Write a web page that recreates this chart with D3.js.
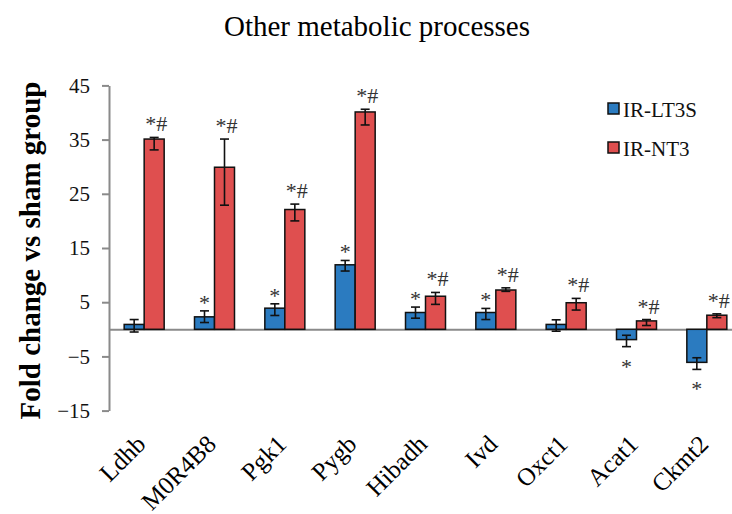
<!DOCTYPE html>
<html>
<head>
<meta charset="utf-8">
<script src="https://cdn.jsdelivr.net/npm/d3@7/dist/d3.min.js"></script>
<style>
  body { margin: 0; background: #fff; }
  text { font-family: "Liberation Serif", "Times New Roman", serif; }
</style>
</head>
<body>
<script>
// data
var genes = ["Ldhb", "M0R4B8", "Pgk1", "Pygb", "Hibadh", "Ivd", "Oxct1", "Acat1", "Ckmt2"];
var seriesNames = ["IR-LT3S", "IR-NT3"];
var lt3s = [0.9, 2.3, 3.9, 11.9, 3.1, 3.1, 0.9, -1.9, -6.1];
var lt3sUp = [0.9, 1.1, 0.8, 0.8, 1.0, 0.75, 0.85, 0.8, 0.85];
var lt3sDown = [1.4, 1.05, 1.35, 1.15, 1.05, 1.3, 1.25, 1.3, 1.3];
var nt3 = [35.1, 29.9, 22.1, 40.1, 6.1, 7.25, 4.9, 1.55, 2.6];
var nt3Up = [0.3, 5.2, 1.0, 0.5, 0.7, 0.4, 0.8, 0.25, 0.25];
var nt3Down = [2.0, 7.0, 2.1, 2.4, 1.5, 0.25, 1.35, 0.85, 0.45];
var lt3sSig = ["", "*", "*", "*", "*", "*", "", "*", "*"];
var nt3Sig = ["*#", "*#", "*#", "*#", "*#", "*#", "*#", "*#", "*#"];
var yTicks = [-15, -5, 5, 15, 25, 35, 45];

var w = 732, h = 514;
var colors = ["#2b7bc0", "#df4f4f"];
var axisGrey = "#8a8a8a";
var barW = 20;

var svg = d3.select("body").append("svg")
  .attr("width", w)
  .attr("height", h);

var xScale = d3.scaleBand()
  .domain(genes)
  .range([109, 742]);

var yScale = d3.scaleLinear()
  .domain([-15, 45])
  .range([410.6, 85.4]);

// y axis
var yAxis = d3.axisLeft(yScale)
  .tickValues(yTicks)
  .tickSize(7)
  .tickSizeOuter(0)
  .tickPadding(12)
  .tickFormat(d3.format("d"));

var gy = svg.append("g")
  .attr("transform", "translate(109,0)")
  .call(yAxis);
gy.select(".domain").attr("stroke", axisGrey).attr("stroke-width", 2);
gy.selectAll(".tick line").attr("stroke", axisGrey).attr("stroke-width", 2);
gy.selectAll(".tick text")
  .attr("font-size", 21)
  .attr("fill", "#111")
  .style("font-family", "'Liberation Serif', 'Times New Roman', serif");

// x axis (the zero line) with rotated gene names below the plot
var labelDrop = yScale(-15) + 35 - yScale(0);
var gx = svg.append("g")
  .attr("transform", "translate(0," + yScale(0) + ")")
  .call(d3.axisBottom(xScale).tickSize(0).tickSizeOuter(0));
gx.select(".domain").attr("stroke", axisGrey).attr("stroke-width", 2);
gx.selectAll(".tick text")
  .attr("y", 0)
  .attr("dy", 0)
  .attr("text-anchor", "end")
  .attr("transform", "translate(3," + labelDrop + ") rotate(-45)")
  .attr("font-size", 25)
  .attr("fill", "#000")
  .style("font-family", "'Liberation Serif', 'Times New Roman', serif");

// bars
var series = [
  {vals: lt3s, up: lt3sUp, down: lt3sDown, sig: lt3sSig, off: -barW},
  {vals: nt3, up: nt3Up, down: nt3Down, sig: nt3Sig, off: 0}
];

series.forEach(function(s, si) {
  var g = svg.append("g");
  var cx = function(i) { return xScale(genes[i]) + xScale.bandwidth() / 2 + s.off; };

  g.selectAll("rect")
    .data(s.vals)
    .enter()
    .append("rect")
    .attr("x", function(d, i) { return cx(i); })
    .attr("y", function(d) { return yScale(Math.max(0, d)); })
    .attr("width", barW)
    .attr("height", function(d) { return Math.abs(yScale(d) - yScale(0)); })
    .attr("fill", colors[si])
    .attr("stroke", "#111")
    .attr("stroke-width", 1.5);

  // error bar ends
  var hi = function(d, i) { return d + s.up[i]; };
  var lo = function(d, i) { return d - s.down[i]; };

  g.selectAll("line.err")
    .data(s.vals)
    .enter()
    .append("line")
    .attr("class", "err")
    .attr("x1", function(d, i) { return cx(i) + barW / 2; })
    .attr("x2", function(d, i) { return cx(i) + barW / 2; })
    .attr("y1", function(d, i) { return yScale(hi(d, i)); })
    .attr("y2", function(d, i) { return yScale(lo(d, i)); })
    .attr("stroke", "#111")
    .attr("stroke-width", 1.6);

  [hi, lo].forEach(function(fn) {
    g.selectAll(null)
      .data(s.vals)
      .enter()
      .append("line")
      .attr("x1", function(d, i) { return cx(i) + barW / 2 - 4.5; })
      .attr("x2", function(d, i) { return cx(i) + barW / 2 + 4.5; })
      .attr("y1", function(d, i) { return yScale(fn(d, i)); })
      .attr("y2", function(d, i) { return yScale(fn(d, i)); })
      .attr("stroke", "#111")
      .attr("stroke-width", 1.6);
  });

  // significance marks
  g.selectAll("text")
    .data(s.vals)
    .enter()
    .append("text")
    .text(function(d, i) { return s.sig[i]; })
    .attr("text-anchor", "middle")
    .attr("x", function(d, i) { return cx(i) + barW / 2 + (si == 1 ? 2 : 0); })
    .attr("y", function(d, i) {
      if (d < 0) return yScale(lo(d, i)) + 27;
      return yScale(hi(d, i)) - (si == 1 ? 6 : 1);
    })
    .attr("font-size", 22)
    .attr("fill", "#333");
});

// legend
var legend = svg.append("g").attr("transform", "translate(608,103)");
seriesNames.forEach(function(name, i) {
  var row = legend.append("g").attr("transform", "translate(0," + i * 39 + ")");
  row.append("rect")
    .attr("width", 11)
    .attr("height", 11)
    .attr("fill", colors[i])
    .attr("stroke", "#111")
    .attr("stroke-width", 1.5);
  row.append("text")
    .attr("x", 15)
    .attr("y", 13.5)
    .attr("font-size", 21)
    .attr("fill", "#111")
    .text(name);
});

// title
svg.append("text")
  .attr("x", 377)
  .attr("y", 36)
  .attr("text-anchor", "middle")
  .attr("font-size", 29)
  .attr("fill", "#000")
  .text("Other metabolic processes");

// y label
svg.append("text")
  .attr("transform", "translate(40,250.5) rotate(-90)")
  .attr("text-anchor", "middle")
  .attr("font-size", 29)
  .attr("font-weight", "bold")
  .attr("fill", "#000")
  .text("Fold change vs sham group");
</script>
</body>
</html>
